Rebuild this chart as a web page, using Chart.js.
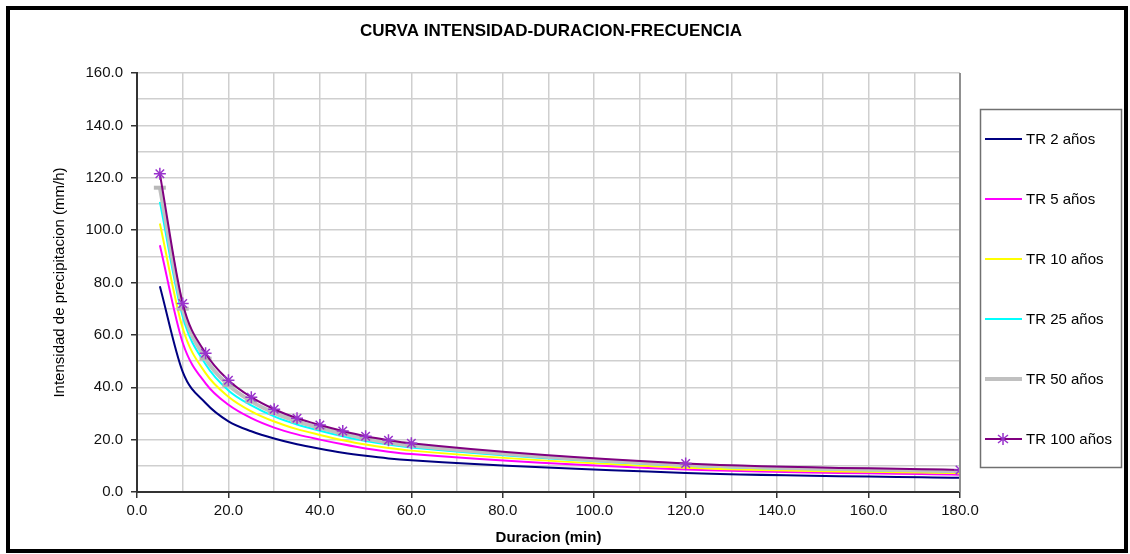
<!DOCTYPE html>
<html>
<head>
<meta charset="utf-8">
<script src="https://cdn.jsdelivr.net/npm/chart.js@4.4.0/dist/chart.umd.min.js"></script>
<style>
html, body { margin: 0; padding: 0; background: #fff; }
</style>
</head>
<body>
<canvas id="idfChart" width="1130" height="554"></canvas>
<script>
// duracion (min) y intensidades (mm/h)
var duraciones = [5, 10, 15, 20, 25, 30, 35, 40, 45, 50, 55, 60, 120, 180];
var tr2   = [78.6, 45.9, 34.0, 27.0, 23.2, 20.4, 18.2, 16.5, 15.0, 13.8, 12.8, 12.1, 7.3, 5.4];
var tr5   = [94.2, 57.0, 41.5, 33.3, 28.2, 24.6, 22.0, 20.0, 18.2, 16.6, 15.4, 14.5, 8.6, 6.6];
var tr10  = [102.5, 62.5, 45.4, 36.4, 30.8, 26.9, 24.0, 21.8, 19.8, 18.1, 16.8, 15.8, 9.3, 7.2];
var tr25  = [110.8, 67.0, 48.8, 38.8, 33.1, 28.9, 25.8, 23.4, 21.3, 19.5, 18.1, 17.0, 10.0, 7.7];
var tr50  = [116.2, 70.0, 50.9, 40.8, 34.6, 30.2, 27.0, 24.5, 22.3, 20.4, 18.9, 17.8, 10.4, 8.0];
var tr100 = [121.5, 72.0, 53.0, 42.7, 36.2, 31.6, 28.2, 25.6, 23.3, 21.3, 19.8, 18.6, 10.9, 8.4];

var seriesNames = ['TR 2 años', 'TR 5 años', 'TR 10 años', 'TR 25 años', 'TR 50 años', 'TR 100 años'];
var seriesData = [tr2, tr5, tr10, tr25, tr50, tr100];

var chartTitle = 'CURVA INTENSIDAD-DURACION-FRECUENCIA';
var xTitle = 'Duracion (min)';
var yTitle = 'Intensidad de precipitacion (mm/h)';

var lineColors = ['#000080', '#FF00FF', '#FFFF00', '#00FFFF', '#C0C0C0', '#800080'];
var lineWidths = [2, 2, 2, 2, 4, 2];

Chart.defaults.font.family = "Arial, 'Liberation Sans', sans-serif";
Chart.defaults.color = '#000';

function toPoints(values) {
    return duraciones.map((d, i) => ({ x: d, y: values[i] }));
}

var datasets = seriesData.map((values, i) => {
    var ds = {
        label: seriesNames[i],
        data: toPoints(values),
        borderColor: lineColors[i],
        backgroundColor: lineColors[i],
        borderWidth: lineWidths[i],
        pointRadius: 0,
        fill: false,
        cubicInterpolationMode: 'monotone',
        order: seriesData.length - i,
    };
    if (i === 4) {
        ds.pointStyle = 'line';
        ds.pointRadius = 6;
        ds.pointBorderWidth = 4;
        ds.pointBorderColor = '#B8B8B8';
    }
    if (i === 5) {
        ds.pointStyle = 'star';
        ds.pointRadius = 6;
        ds.pointBorderWidth = 1.5;
        ds.pointBorderColor = '#9933CC';
    }
    return ds;
});

// frame, title and boxed legend like the spreadsheet chart
var decorations = {
    id: 'decorations',
    afterDraw(chart) {
        var c = chart.ctx;
        var area = chart.chartArea;
        c.save();

        // plot area right edge
        c.strokeStyle = '#909090';
        c.lineWidth = 2;
        c.beginPath();
        c.moveTo(area.right, area.top);
        c.lineTo(area.right, area.bottom);
        c.stroke();

        c.strokeStyle = '#000';
        c.lineWidth = 4;
        c.strokeRect(8, 8, 1118, 543);

        c.fillStyle = '#000';
        c.font = "bold 17px Arial, 'Liberation Sans', sans-serif";
        c.textAlign = 'center';
        c.textBaseline = 'middle';
        c.fillText(chartTitle, 551, 31);

        c.strokeStyle = '#707070';
        c.lineWidth = 1.5;
        c.strokeRect(980.5, 109.5, 141, 358);

        c.font = "15px Arial, 'Liberation Sans', sans-serif";
        c.textAlign = 'left';
        chart.data.datasets.forEach((ds, i) => {
            var y = 139 + i * 60;
            c.strokeStyle = ds.borderColor;
            c.lineWidth = i === 4 ? 4 : 2;
            c.beginPath();
            c.moveTo(985, y);
            c.lineTo(1022, y);
            c.stroke();
            if (ds.pointStyle === 'star') {
                c.strokeStyle = ds.pointBorderColor;
                c.lineWidth = 1.5;
                c.beginPath();
                c.moveTo(1003, y - 6); c.lineTo(1003, y + 6);
                c.moveTo(998, y - 4); c.lineTo(1008, y + 4);
                c.moveTo(998, y + 4); c.lineTo(1008, y - 4);
                c.stroke();
            }
            c.fillStyle = '#000';
            c.fillText(ds.label, 1026, y + 1);
        });
        c.restore();
    }
};

function tickCol(ctx) {
    return ctx.tick && ctx.tick.value % 20 === 0 ? '#333' : 'rgba(0,0,0,0)';
}

var ctx = document.getElementById('idfChart').getContext('2d');
new Chart(ctx, {
    type: 'line',
    data: { datasets: datasets },
    options: {
        responsive: false,
        animation: false,
        layout: {
            padding: { left: 51, top: 73, right: 170, bottom: 7 },
        },
        plugins: {
            legend: { display: false },
            title: { display: false },
            tooltip: { enabled: false },
        },
        scales: {
            x: {
                type: 'linear',
                min: 0,
                max: 180,
                afterFit: scale => { scale.height = 55; },
                grid: {
                    color: '#CFCFCF',
                    lineWidth: 1.5,
                    tickLength: 6,
                    tickColor: tickCol,
                },
                border: { color: '#333', width: 2 },
                ticks: {
                    stepSize: 10,
                    autoSkip: false,
                    maxRotation: 0,
                    padding: 4,
                    font: { size: 15 },
                    color: '#111',
                    callback: v => (v % 20 === 0 ? v.toFixed(1) : ''),
                },
                title: {
                    display: true,
                    text: xTitle,
                    font: { size: 15, weight: 'bold' },
                    padding: 0,
                },
            },
            y: {
                min: 0,
                max: 160,
                afterFit: scale => { scale.width = 86; },
                grid: {
                    color: '#CFCFCF',
                    lineWidth: 1.5,
                    tickLength: 6,
                    tickColor: tickCol,
                },
                border: { color: '#333', width: 2 },
                ticks: {
                    stepSize: 10,
                    autoSkip: false,
                    padding: 8,
                    font: { size: 15 },
                    color: '#111',
                    callback: v => (v % 20 === 0 ? v.toFixed(1) : ''),
                },
                title: {
                    display: true,
                    text: yTitle,
                    font: { size: 15 },
                    padding: 0,
                },
            },
        },
    },
    plugins: [decorations],
});
</script>
</body>
</html>
